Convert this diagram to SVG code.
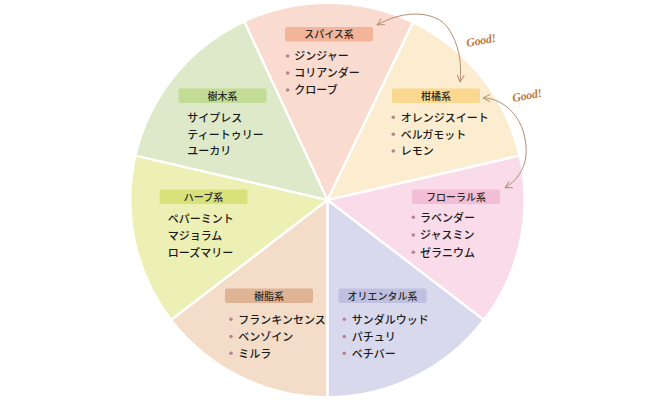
<svg xmlns="http://www.w3.org/2000/svg" width="650" height="400" viewBox="0 0 650 400">
<defs>
<style>
.lbl{font-family:"Noto Sans CJK JP","Noto Sans",sans-serif;font-size:10px;fill:#2a2a2a;text-anchor:middle;font-weight:500}
.itm{font-family:"Noto Sans CJK JP","Noto Sans",sans-serif;font-size:11px;fill:#1a1a1a;font-weight:500}
.dot{fill:#b98392}
.sep{stroke:#fff;stroke-width:2.5;fill:none}
.arr{stroke:#b48f72;stroke-width:1;fill:none}
.good{font-family:"Liberation Serif","DejaVu Serif",serif;font-style:italic;font-weight:bold;font-size:12px;fill:#c27a44;letter-spacing:-0.3px}
</style>
<marker id="ah" viewBox="0 0 8 8" refX="7.5" refY="4" markerWidth="8" markerHeight="8" markerUnits="userSpaceOnUse" orient="auto-start-reverse">
<path d="M0.5,0.5 L7.5,4 L0.5,7.5" fill="none" stroke="#b48f72" stroke-width="1"/>
</marker>
</defs>
<rect width="650" height="400" fill="#fff"/>

<g id="spice">
<path d="M327.5,200 L244.7,22.4 A196,196 0 0 1 412.5,23.4 Z" fill="#f9dbcf"/>
<rect x="285" y="27" width="88" height="14.5" rx="2" fill="#f3b59a"/>
<text class="lbl" x="329" y="38">スパイス系</text>
<circle class="dot" cx="287.7" cy="56" r="1.8"/><text class="itm" x="294.3" y="60">ジンジャー</text>
<circle class="dot" cx="287.7" cy="73" r="1.8"/><text class="itm" x="294.3" y="77">コリアンダー</text>
<circle class="dot" cx="287.7" cy="90" r="1.8"/><text class="itm" x="294.3" y="94">クローブ</text>
</g>

<g id="citrus">
<path d="M327.5,200 L412.5,23.4 A196,196 0 0 1 518.5,155.9 Z" fill="#fcedd0"/>
<rect x="392" y="88.5" width="88" height="14.5" rx="2" fill="#fad88f"/>
<text class="lbl" x="436" y="99.5">柑橘系</text>
<circle class="dot" cx="393.3" cy="117.3" r="1.8"/><text class="itm" x="400.7" y="121.5">オレンジスイート</text>
<circle class="dot" cx="393.3" cy="134.3" r="1.8"/><text class="itm" x="400.7" y="138.5">ベルガモット</text>
<circle class="dot" cx="393.3" cy="151" r="1.8"/><text class="itm" x="400.7" y="155">レモン</text>
</g>

<g id="floral">
<path d="M327.5,200 L518.5,155.9 A196,196 0 0 1 483,319.3 Z" fill="#f9dbe9"/>
<rect x="412" y="189.5" width="88" height="14.5" rx="2" fill="#f3bdd5"/>
<text class="lbl" x="456" y="200.5">フローラル系</text>
<circle class="dot" cx="413.3" cy="217.3" r="1.8"/><text class="itm" x="420" y="221.5">ラベンダー</text>
<circle class="dot" cx="413.3" cy="235" r="1.8"/><text class="itm" x="420" y="239">ジャスミン</text>
<circle class="dot" cx="413.3" cy="252.3" r="1.8"/><text class="itm" x="420" y="256.5">ゼラニウム</text>
</g>

<g id="oriental">
<path d="M327.5,200 L483,319.3 A196,196 0 0 1 327.5,396 Z" fill="#d9d9ee"/>
<rect x="338.5" y="288.5" width="88" height="14.5" rx="2" fill="#bfc0e0"/>
<text class="lbl" x="382.5" y="299.5">オリエンタル系</text>
<circle class="dot" cx="344.3" cy="319.3" r="1.8"/><text class="itm" x="351.7" y="323.5">サンダルウッド</text>
<circle class="dot" cx="344.3" cy="336.5" r="1.8"/><text class="itm" x="351.7" y="340.5">パチュリ</text>
<circle class="dot" cx="344.3" cy="353.3" r="1.8"/><text class="itm" x="351.7" y="357.5">ベチバー</text>
</g>

<g id="resin">
<path d="M327.5,200 L327.5,396 A196,196 0 0 1 172,319.3 Z" fill="#f3dcc8"/>
<rect x="225" y="288.5" width="88" height="14.5" rx="2" fill="#dfb494"/>
<text class="lbl" x="269" y="299.5">樹脂系</text>
<circle class="dot" cx="231" cy="319.3" r="1.8"/><text class="itm" x="238.3" y="323.5">フランキンセンス</text>
<circle class="dot" cx="231" cy="336.5" r="1.8"/><text class="itm" x="238.3" y="340.5">ベンゾイン</text>
<circle class="dot" cx="231" cy="353.3" r="1.8"/><text class="itm" x="238.3" y="357.5">ミルラ</text>
</g>

<g id="herb">
<path d="M327.5,200 L172,319.3 A196,196 0 0 1 136.5,155.9 Z" fill="#ecf0b4"/>
<rect x="159.5" y="189.5" width="88" height="14.5" rx="2" fill="#d7e27a"/>
<text class="lbl" x="203.5" y="200.5">ハーブ系</text>
<text class="itm" x="167.7" y="222.5">ペパーミント</text>
<text class="itm" x="167.7" y="240">マジョラム</text>
<text class="itm" x="167.7" y="256.5">ローズマリー</text>
</g>

<g id="wood">
<path d="M327.5,200 L136.5,155.9 A196,196 0 0 1 244.7,22.4 Z" fill="#dde9c8"/>
<rect x="178.5" y="88.5" width="88" height="14.5" rx="2" fill="#c2dc96"/>
<text class="lbl" x="222.5" y="99.5">樹木系</text>
<text class="itm" x="187.3" y="121.5">サイプレス</text>
<text class="itm" x="187.3" y="138.5">ティートゥリー</text>
<text class="itm" x="187.3" y="155">ユーカリ</text>
</g>

<g id="connectors">
<path class="sep" d="M327.5,200 L327.5,397 M327.5,200 L172,319.3 M327.5,200 L136.5,155.9 M327.5,200 L244.7,22.4 M327.5,200 L412.5,23.4 M327.5,200 L518.5,155.9 M327.5,200 L483,319.3"/>
<path class="arr" d="M377,25 C405,9 436,11 448,28 C459,44 462,62 460,82" marker-start="url(#ah)" marker-end="url(#ah)"/>
<path class="arr" d="M483,98 C505,98 528,120 526,155 C525,170 515,182 505,188" marker-start="url(#ah)" marker-end="url(#ah)"/>
<text class="good" x="467" y="47" transform="rotate(-10 467 47)">Good!</text>
<text class="good" x="513" y="102" transform="rotate(-10 513 102)">Good!</text>
</g>
</svg>
